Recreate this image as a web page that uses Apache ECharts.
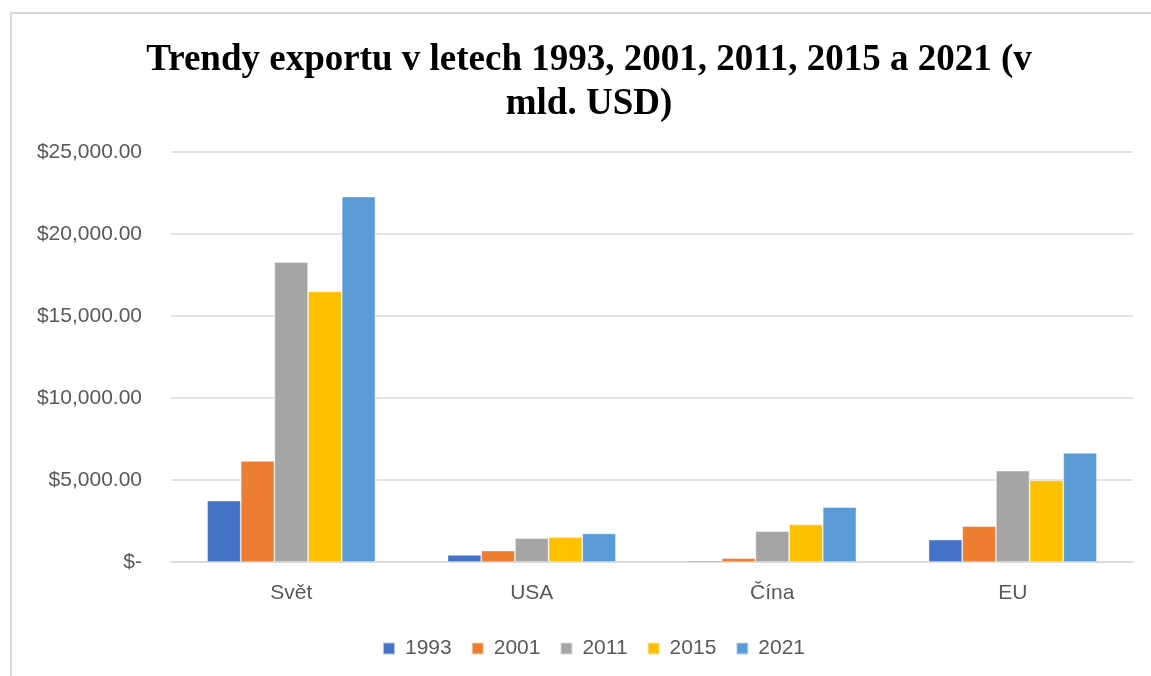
<!DOCTYPE html>
<html>
<head>
<meta charset="utf-8">
<script src="https://cdn.jsdelivr.net/npm/echarts@6/dist/echarts.min.js"></script>
<style>
html,body{margin:0;padding:0;background:#fff;}
#chart{width:1151px;height:676px;}
</style>
</head>
<body>
<div id="chart"></div>
<script>
const categories = ['Svět', 'USA', 'Čína', 'EU'];
const years = ['1993', '2001', '2011', '2015', '2021'];
const v1993 = [3740, 430, 90, 1370];
const v2001 = [6160, 700, 240, 2190];
const v2011 = [18290, 1450, 1890, 5570];
const v2015 = [16500, 1510, 2290, 4980];
const v2021 = [22280, 1740, 3350, 6660];
const yTicks = [0, 5000, 10000, 15000, 20000, 25000];
const colors = ['#4472C4', '#ED7D31', '#A5A5A5', '#FFC000', '#5B9BD5'];
const seriesValues = [v1993, v2001, v2011, v2015, v2021];

const chart = echarts.init(document.getElementById('chart'));
const font = 'Liberation Sans';
function fmt(v) {
  if (v === 0) return '$-';
  return '$' + v.toLocaleString('en-US', {minimumFractionDigits: 2, maximumFractionDigits: 2});
}
chart.setOption({
  animation: false,
  color: colors,
  graphic: [{
    type: 'polyline',
    shape: {points: [[11, 676], [11, 13], [1151, 13]]},
    style: {stroke: '#d9d9d9', lineWidth: 2, fill: null},
    silent: true
  }],
  title: {
    text: 'Trendy exportu v letech 1993, 2001, 2011, 2015 a 2021 (v\nmld. USD)',
    left: 584,
    top: 33,
    textAlign: 'center',
    textStyle: {
      fontFamily: 'Liberation Serif',
      fontWeight: 'bold',
      fontSize: 37,
      lineHeight: 44,
      color: '#000'
    }
  },
  legend: {
    data: years,
    bottom: 17,
    left: 382,
    padding: 0,
    itemWidth: 12,
    itemHeight: 12,
    itemGap: 19,
    icon: 'rect',
    textStyle: {fontFamily: font, fontSize: 21, color: '#595959', padding: [0, 0, 0, 5]}
  },
  grid: {left: 171, right: 18, top: 152, bottom: 114, containLabel: false},
  xAxis: {
    type: 'category',
    data: categories,
    axisLine: {lineStyle: {color: '#d9d9d9', width: 1.5}},
    axisTick: {show: false},
    axisLabel: {fontFamily: font, fontSize: 21, color: '#595959', margin: 21}
  },
  yAxis: {
    type: 'value',
    min: 0,
    max: 25000,
    interval: 5000,
    axisLine: {show: false},
    axisTick: {show: false},
    splitLine: {lineStyle: {color: '#d9d9d9', width: 1.5}},
    axisLabel: {
      fontFamily: font, fontSize: 21, color: '#595959', margin: 29,
      formatter: function (v) { return fmt(v); }
    }
  },
  series: seriesValues.map(function (vals, i) {
    return {
      name: years[i],
      type: 'bar',
      data: vals,
      barGap: '0%',
      barCategoryGap: '30%',
      itemStyle: {borderColor: 'rgba(255,255,255,0.6)', borderWidth: 0.75}
    };
  })
});
</script>
</body>
</html>
